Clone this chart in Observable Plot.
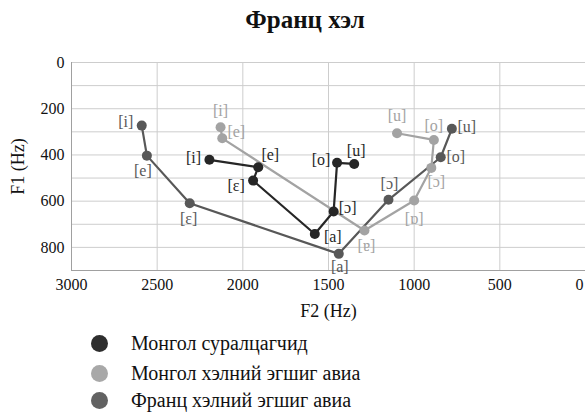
<!DOCTYPE html>
<html>
<head>
<meta charset="utf-8">
<style>
  html, body, body * { font-family: 'Liberation Serif' !important; }
</style>
<script src="https://cdn.jsdelivr.net/npm/d3@7"></script>
<script src="https://cdn.jsdelivr.net/npm/@observablehq/plot@0.6"></script>
</head>
<body style="margin:0;background:#fff">
<div id="wrap" style="position:relative;width:585px;height:413px;overflow:hidden">
  <div id="title" style="height:40px;line-height:40px;text-align:center;font-weight:bold;font-size:25px;padding-left:25px;box-sizing:border-box;color:#111">Франц хэл</div>
  <div id="chart"></div>
  <div id="legend" style="position:relative;height:83px"></div>
</div>
<script>
const FONT = "Liberation Serif";

// Series names (legend order)
const seriesNames = ["Монгол суралцагчид", "Монгол хэлний эгшиг авиа", "Франц хэлний эгшиг авиа"];

// Монгол суралцагчид
const learnerVowels = ["[i]", "[e]", "[ɛ]", "[a]", "[ɔ]", "[o]", "[u]"];
const learnerF2 = [2195, 1910, 1940, 1580, 1470, 1450, 1350];
const learnerF1 = [421, 453, 511, 742, 645, 434, 439];

// Монгол хэлний эгшиг авиа
const mongolVowels = ["[i]", "[e]", "[ɐ]", "[ɒ]", "[ɔ]", "[o]", "[u]"];
const mongolF2 = [2130, 2120, 1290, 1000, 900, 885, 1100];
const mongolF1 = [280, 328, 727, 597, 456, 335, 306];

// Франц хэлний эгшиг авиа
const frenchVowels = ["[i]", "[e]", "[ɛ]", "[a]", "[ɔ]", "[o]", "[u]"];
const frenchF2 = [2590, 2560, 2310, 1440, 1150, 845, 780];
const frenchF1 = [273, 403, 609, 828, 594, 410, 287];

// Axis ticks
const xTicks = [3000, 2500, 2000, 1500, 1000, 500, 0];
const yTicks = [0, 200, 400, 600, 800];
const yGrid = [0, 100, 200, 300, 400, 500, 600, 700, 800, 900];

// Label placement offsets [dx, dy] (annotation styling)
const learnerLabelOff = [[-16,-2],[12,-12],[-17,5],[18,3],[14,-4],[-16,-3],[2,-13]];
const mongolLabelOff = [[0,-16],[14,-6],[2,15],[0,18],[5,14],[0,-14],[0,-17]];
const frenchLabelOff = [[-16,-4],[-4,15],[-1,16],[1,13],[1,-16],[15,0],[15,-2]];

const colors = ["#262626", "#a3a3a3", "#585858"];

function build(vowels, f2, f1, offs) {
  return vowels.map((v, i) => ({ v, F2: f2[i], F1: f1[i], dx: offs[i][0], dy: offs[i][1] }));
}
const learners = build(learnerVowels, learnerF2, learnerF1, learnerLabelOff);
const mongol = build(mongolVowels, mongolF2, mongolF1, mongolLabelOff);
const french = build(frenchVowels, frenchF2, frenchF1, frenchLabelOff);

function seriesMarks(data, color) {
  return [
    Plot.line(data, { x: "F2", y: "F1", stroke: color, strokeWidth: 2.2 }),
    Plot.dot(data, { x: "F2", y: "F1", r: 5, fill: color }),
    ...data.map(d => Plot.text([d], {
      x: "F2", y: "F1", text: "v", dx: d.dx, dy: d.dy, fill: color,
      fontSize: 16, textAnchor: "middle", fontFamily: FONT
    }))
  ];
}

const fmt = d => String(d);

const chart = Plot.plot({
  width: 585,
  height: 290,
  marginTop: 22,
  marginBottom: 60,
  marginLeft: 71,
  marginRight: 0,
  style: { fontFamily: FONT, fontSize: "16px", color: "#111", background: "#fff" },
  x: { domain: [3000, 0], ticks: xTicks, tickFormat: fmt },
  y: { domain: [0, 900], reverse: true, ticks: yTicks, tickFormat: fmt },
  marks: [
    Plot.gridY(yGrid, { stroke: "#cdcdcd", strokeOpacity: 1, strokeWidth: 1 }),
    Plot.gridX(xTicks, { stroke: "#cdcdcd", strokeOpacity: 1, strokeWidth: 1 }),
    Plot.ruleX([3000], { stroke: "#a0a0a0" }),
    Plot.ruleY([900], { stroke: "#a0a0a0" }),
    Plot.axisX(xTicks.filter(t => t !== 0), { tickSize: 0, tickPadding: 8, fontSize: 16, tickFormat: fmt, fontFamily: FONT, label: "F2 (Hz)", labelAnchor: "center", labelOffset: 46, labelArrow: "none" }),
    Plot.axisX([0], { tickSize: 0, tickPadding: 8, fontSize: 16, tickFormat: fmt, fontFamily: FONT, dx: -6, label: null }),
    Plot.axisY(yTicks, { tickSize: 0, tickPadding: 7, fontSize: 16, tickFormat: fmt, fontFamily: FONT, label: "F1 (Hz)", labelAnchor: "center", labelOffset: 60, labelArrow: "none" }),
    ...seriesMarks(french, colors[2]),
    ...seriesMarks(mongol, colors[1]),
    ...seriesMarks(learners, colors[0])
  ]
});
document.getElementById("chart").appendChild(chart);
chart.querySelectorAll("text").forEach(t => t.setAttribute("font-family", FONT));
chart.querySelectorAll('[aria-label="x-axis label"], [aria-label="y-axis label"]').forEach(g => g.setAttribute("font-size", "18"));

// Legend
const legend = document.getElementById("legend");
const legendTops = [3, 33, 60];
const legendColors = ["#2e2e2e", "#a8a8a8", "#626262"];
seriesNames.forEach((name, i) => {
  const item = document.createElement("div");
  item.style.cssText = "position:absolute;left:91px;height:20px;display:flex;align-items:center;font-size:20px;color:#111";
  item.style.top = legendTops[i] + "px";
  const sw = document.createElement("span");
  sw.style.cssText = "width:17px;height:17px;border-radius:50%;margin-right:23px;flex:none";
  sw.style.background = legendColors[i];
  item.appendChild(sw);
  item.appendChild(document.createTextNode(name));
  legend.appendChild(item);
});
</script>
</body>
</html>
